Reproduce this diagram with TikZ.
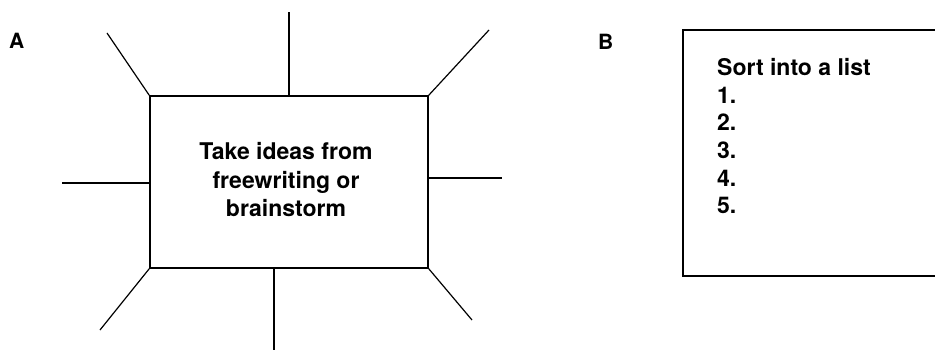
\documentclass[tikz,border=0pt]{standalone}
\usepackage{fontspec}
\setmainfont{TeX Gyre Heros}
\begin{document}
\begin{tikzpicture}[x=1pt,y=-1pt,
  panel/.style={draw,line width=1.6pt,rectangle,inner sep=0pt},
  spoke/.style={line width=1.2pt},
  tag/.style={font=\bfseries\fontsize{21}{24}\selectfont,inner sep=0pt,anchor=base west},
  line/.style={font=\bfseries\fontsize{23}{28}\selectfont,inner sep=0pt}]
\useasboundingbox (0,0) rectangle (935,350);

% Panel A: idea box with spokes
\node[tag] (la) at (9,49) {A};
\node[panel,minimum width=278pt,minimum height=172pt] (boxa) at (289,182) {};
\node[line,anchor=base] (ta1) at (286,160) {Take ideas from};
\node[line,anchor=base] (ta2) at (286,188.5) {freewriting or};
\node[line,anchor=base] (ta3) at (286,217) {brainstorm};

\coordinate (s1) at (107,33);
\coordinate (s2) at (289,12);
\coordinate (s3) at (489,30);
\coordinate (s4) at (502,178);
\coordinate (s5) at (472,320);
\coordinate (s6) at (274,352);
\coordinate (s7) at (100,330);
\coordinate (s8) at (62,183);

\draw[spoke] (boxa.north west) -- (s1);
\draw[spoke] (boxa.north west -| s2) -- (s2);
\draw[spoke] (boxa.north east) -- (s3);
\draw[spoke] (boxa.east |- s4) -- (s4);
\draw[spoke] (boxa.south east) -- (s5);
\draw[spoke] (boxa.south west -| s6) -- (s6);
\draw[spoke] (boxa.south west) -- (s7);
\draw[spoke] (boxa.west |- s8) -- (s8);

% Panel B: list box, running past the right edge
\node[tag] (lb) at (598,50) {B};
\node[panel,minimum width=270pt,minimum height=246pt] (boxb) at (818,153) {};
\node[line,anchor=base west] (tb0) at (717,76) {Sort into a list};
\node[line,anchor=base west] (tb1) at (717,104) {1.};
\node[line,anchor=base west] (tb2) at (717,131) {2.};
\node[line,anchor=base west] (tb3) at (717,159) {3.};
\node[line,anchor=base west] (tb4) at (717,186) {4.};
\node[line,anchor=base west] (tb5) at (717,213) {5.};
\end{tikzpicture}
\end{document}
